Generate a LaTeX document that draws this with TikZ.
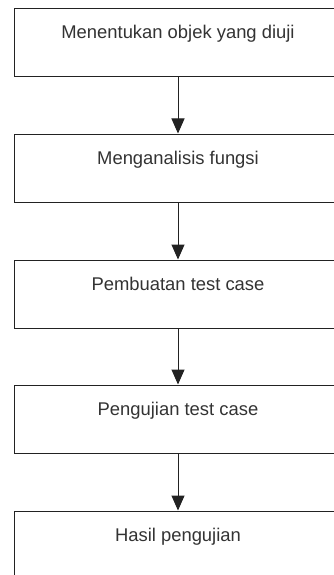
\documentclass[tikz,border=0pt]{standalone}
\usepackage{fontspec}
\setmainfont{Liberation Sans}
\usetikzlibrary{arrows.meta}
\definecolor{txt}{HTML}{333333}
\definecolor{edge}{HTML}{222222}
\begin{document}
\begin{tikzpicture}[x=1pt,y=1pt,
  stepbox/.style={draw=edge, line width=1pt, rectangle, minimum width=328pt, minimum height=68pt,
    inner sep=0pt, text height=13pt, text depth=21pt, text=txt,
    font=\fontsize{18.4}{22}\selectfont},
  arr/.style={draw=edge, line width=1pt, -{Triangle[length=15pt,width=13pt]}}]
\path[use as bounding box, clip] (0,0) rectangle (334,-575);
\fill[white] (0,0) rectangle (334,-575);
\node[stepbox] (b1) at (178,-43) {Menentukan objek yang diuji};
\node[stepbox] (b2) at (178,-168) {Menganalisis fungsi};
\node[stepbox] (b3) at (178,-294) {Pembuatan test case};
\node[stepbox] (b4) at (178,-419) {Pengujian test case};
\node[stepbox] (b5) at (178,-545) {Hasil pengujian};
\draw[arr] (b1.south) -- (b2.north);
\draw[arr] (b2.south) -- (b3.north);
\draw[arr] (b3.south) -- (b4.north);
\draw[arr] (b4.south) -- (b5.north);
\end{tikzpicture}
\end{document}
